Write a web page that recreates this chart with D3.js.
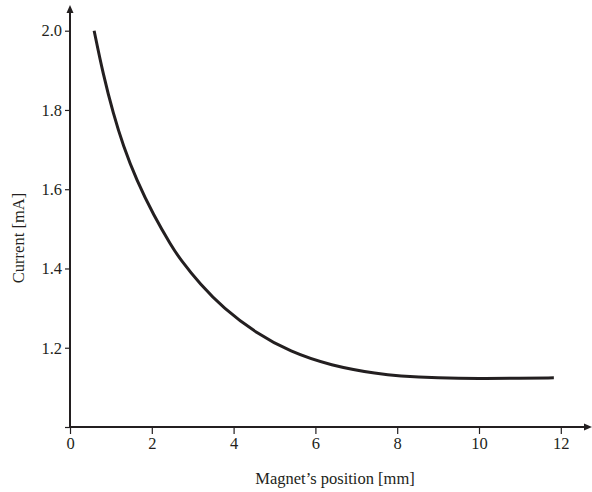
<!DOCTYPE html>
<html>
<head>
<meta charset="utf-8">
<script src="https://cdn.jsdelivr.net/npm/d3@7"></script>
<style>
    body { margin: 0; background: #fff; }
    svg { display: block; }
    text { font-family: "Liberation Serif", "Times New Roman", serif; fill: #231f20; }
</style>
</head>
<body>
<svg id="chart" width="592" height="492"></svg>
<script>
(function() {

    var ink = '#231f20',
        fs = 16.5; // font size

    // curve
    var posMm = [0.59, 0.81, 1.06, 1.30, 1.63, 2.04, 2.49, 2.69, 3.18, 3.75, 4.56, 5.38, 6.36, 7.58, 8.0, 9.0, 10.0, 11.0, 11.83];
    var currentMa = [2.0, 1.890, 1.790, 1.710, 1.622, 1.535, 1.455, 1.424, 1.360, 1.300, 1.236, 1.190, 1.155, 1.133, 1.129, 1.124, 1.122, 1.123, 1.124];

    var xTicks = [0, 2, 4, 6, 8, 10, 12];
    var yTicks = [1.0, 1.2, 1.4, 1.6, 1.8, 2.0];
    var yTickLabels = ['', '1.2', '1.4', '1.6', '1.8', '2.0'];

    var data = posMm.map(function(d, i) {
        return { x: d, y: currentMa[i] };
    });

    var svg = d3.select('#chart');

    var x = d3.scaleLinear().domain([0, 12]).range([70, 560.8]);
    var y = d3.scaleLinear().domain([1.0, 2.0]).range([427, 30.7]);

    // x axis
    var gx = svg.append('g')
        .attr('transform', 'translate(0,' + y(1.0) + ')')
        .call(d3.axisBottom(x)
            .tickValues(xTicks)
            .tickSize(7)
            .tickPadding(3)
            .tickFormat(d3.format('d')));

    // y axis
    var gy = svg.append('g')
        .attr('transform', 'translate(' + x(0) + ',0)')
        .call(d3.axisLeft(y)
            .tickValues(yTicks)
            .tickSize(5)
            .tickPadding(3)
            .tickFormat(function(d, i) { return yTickLabels[i]; }));

    [gx, gy].forEach(function(g) {
        g.attr('font-family', null);
        g.select('.domain').remove();
        g.selectAll('.tick line').attr('stroke', ink).attr('stroke-width', 1.2);
        g.selectAll('.tick text')
            .attr('font-size', fs)
            .attr('fill', ink)
            .style('font-family', '"Liberation Serif", serif');
    });

    // axis lines with arrow heads
    svg.append('line')
        .attr('x1', x(0)).attr('y1', y(1.0))
        .attr('x2', 586).attr('y2', y(1.0))
        .attr('stroke', ink).attr('stroke-width', 2);
    svg.append('path')
        .attr('d', 'M592,' + y(1.0) + 'l-8,-3.5l0,7z')
        .attr('fill', ink);

    svg.append('line')
        .attr('x1', x(0)).attr('y1', y(1.0) + 1)
        .attr('x2', x(0)).attr('y2', 12)
        .attr('stroke', ink).attr('stroke-width', 2);
    svg.append('path')
        .attr('d', 'M' + x(0) + ',5l-3.5,8l7,0z')
        .attr('fill', ink);

    // curve
    var line = d3.line()
        .x(function(d) { return x(d.x); })
        .y(function(d) { return y(d.y); })
        .curve(d3.curveBasis);

    svg.append('path')
        .datum(data)
        .attr('d', line)
        .attr('fill', 'none')
        .attr('stroke', ink)
        .attr('stroke-width', 3);

    // axis titles
    svg.append('text')
        .attr('x', 335)
        .attr('y', 484)
        .attr('text-anchor', 'middle')
        .attr('font-size', fs)
        .text('Magnet\u2019s position [mm]');

    svg.append('text')
        .attr('transform', 'translate(24,238) rotate(-90)')
        .attr('text-anchor', 'middle')
        .attr('font-size', fs)
        .text('Current [mA]');

})();
</script>
</body>
</html>
